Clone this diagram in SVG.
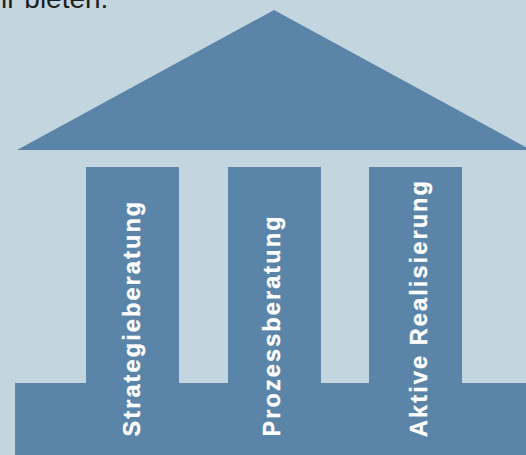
<svg xmlns="http://www.w3.org/2000/svg" width="526" height="455" viewBox="0 0 526 455">
<style>
.shape{fill:#5a84a8}
.label{font-family:"Liberation Sans",Arial,sans-serif;font-weight:bold;font-size:23.5px;letter-spacing:2.1px;fill:#ffffff;stroke:#ffffff;stroke-width:0.3px}
.head{font-family:"Liberation Sans",Arial,sans-serif;font-size:28px;fill:#1e1e1e}
</style>
<rect x="0" y="0" width="526" height="455" fill="#c3d6df"/>
<text class="head" x="1" y="7.5">ir bieten.</text>
<g id="roof"><polygon class="shape" points="17,150 274,10 531,150"/></g>
<g id="base"><rect class="shape" x="15" y="383" width="511" height="72"/></g>
<g id="pillar1">
<rect class="shape" x="86" y="167" width="93" height="217"/>
<text class="label" transform="translate(140,436.5) rotate(-90)">Strategieberatung</text>
</g>
<g id="pillar2">
<rect class="shape" x="228" y="167" width="93" height="217"/>
<text class="label" transform="translate(280,436.5) rotate(-90)">Prozessberatung</text>
</g>
<g id="pillar3">
<rect class="shape" x="369" y="167" width="93" height="217"/>
<text class="label" transform="translate(427,437) rotate(-90)">Aktive Realisierung</text>
</g>
<g id="connectors"></g>
</svg>
